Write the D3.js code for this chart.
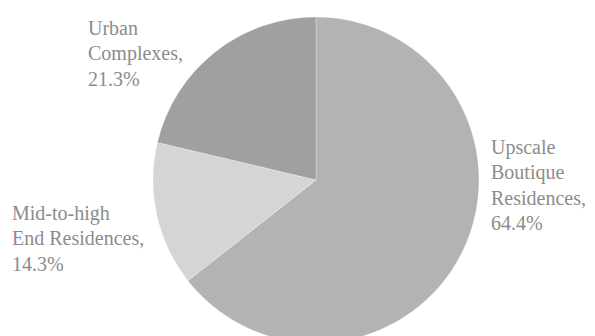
<!DOCTYPE html>
<html>
<head>
<meta charset="utf-8">
<script src="https://cdn.jsdelivr.net/npm/d3@7"></script>
<style>
  html, body { margin: 0; padding: 0; background: #fff; }
  svg { display: block; }
</style>
</head>
<body>
<svg id="chart" width="595" height="336"></svg>
<script>
// Data
const categories = ["Upscale Boutique Residences", "Mid-to-high End Residences", "Urban Complexes"];
const labelLines = [["Upscale", "Boutique", "Residences,"], ["Mid-to-high", "End Residences,"], ["Urban", "Complexes,"]];
const values = [64.4, 14.3, 21.3];
const colors = ["#b3b3b3", "#d4d5d5", "#a0a0a0"];

// Layout
const W = 595, H = 336;
const cx = 316, cy = 180, R = 163;
const labelPos = [ {dx: 175, dy: -26}, {dx: -304, dy: 40}, {dx: -228, dy: -145} ];
const lineH = 25.3;

const svg = d3.select("#chart");
const g = svg.append("g").attr("transform", `translate(${cx},${cy})`);

const pie = d3.pie().sort(null).value(d => d)(values);
const arc = d3.arc().innerRadius(0).outerRadius(R);

g.selectAll("path").data(pie).enter().append("path")
  .attr("d", arc)
  .attr("fill", (d, i) => colors[i])
  .attr("stroke", "#ffffff")
  .attr("stroke-width", 0.5)
  .attr("stroke-opacity", 0.6);

const labels = g.selectAll("text.lbl").data(pie).enter().append("text")
  .attr("class", "lbl")
  .attr("x", (d, i) => labelPos[i].dx)
  .attr("y", (d, i) => labelPos[i].dy)
  .attr("font-family", "'Liberation Serif', 'DejaVu Serif', serif")
  .attr("font-size", 20)
  .attr("fill", "#8c8c8c");

labels.each(function(d, i) {
  const t = d3.select(this);
  const lines = labelLines[i].concat([d3.format(".1f")(values[i]) + "%"]);
  lines.forEach((ln, j) => {
    t.append("tspan")
      .attr("x", labelPos[i].dx)
      .attr("y", labelPos[i].dy + j * lineH)
      .text(ln);
  });
});
</script>
</body>
</html>
